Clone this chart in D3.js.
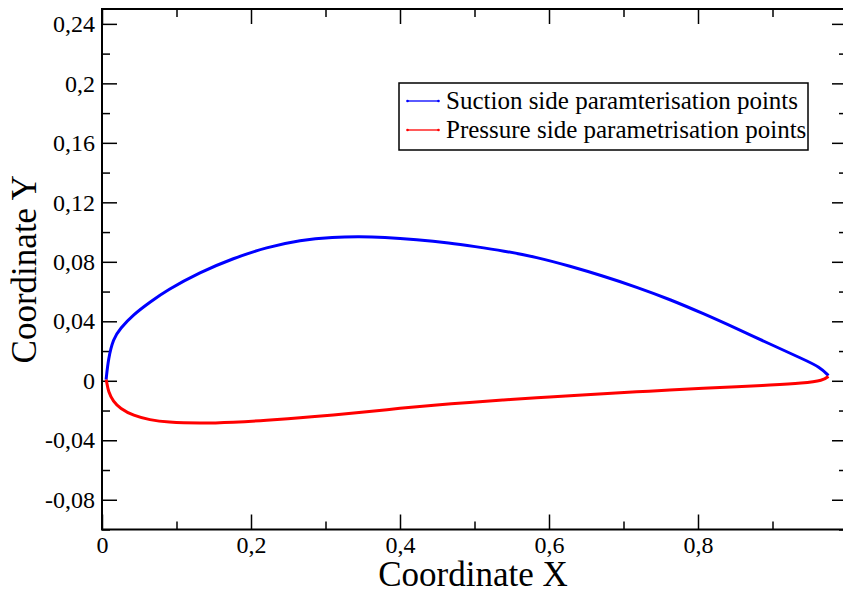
<!DOCTYPE html>
<html><head><meta charset="utf-8">
<script src="https://cdn.jsdelivr.net/npm/d3@7"></script>
<style>body{margin:0;background:#fff;overflow:hidden}svg{display:block}</style>
</head><body>
<script>
// Data
const suctionX = [0.0055,0.0085,0.0152,0.0242,0.042,0.0644,0.0868,0.1315,0.1763,0.221,0.2658,0.3105,0.346,0.3776,0.4224,0.467,0.5,0.5387,0.5835,0.628,0.673,0.7177,0.7624,0.8071,0.8519,0.8966,0.9413,0.9638,0.975];
const suctionY = [0.0008,0.015,0.0284,0.0351,0.0445,0.0529,0.0608,0.0730,0.0824,0.0898,0.0947,0.0967,0.0970,0.0966,0.0950,0.0927,0.0903,0.0874,0.0831,0.0771,0.0704,0.0630,0.0547,0.0452,0.0351,0.0247,0.0145,0.0092,0.0035];
const pressureX = [0.0055,0.0063,0.0085,0.0152,0.0242,0.042,0.0644,0.0868,0.1315,0.1763,0.221,0.2658,0.3105,0.3553,0.40,0.4448,0.494,0.5387,0.5835,0.628,0.673,0.7177,0.762,0.807,0.852,0.8966,0.9413,0.9682,0.975];
const pressureY = [0.0008,-0.0007,-0.0074,-0.0141,-0.0185,-0.0235,-0.0263,-0.0279,-0.0286,-0.0279,-0.0266,-0.0248,-0.023,-0.0208,-0.0185,-0.0164,-0.0145,-0.0129,-0.0114,-0.0100,-0.0087,-0.0074,-0.0062,-0.0051,-0.0040,-0.0029,-0.0016,0.0002,0.0030];
const seriesNames = ["Suction side paramterisation points","Pressure side parametrisation points"];
const seriesColors = ["#0000ff","#ff0000"];
const xMajorTicks = [0,0.2,0.4,0.6,0.8,1.0];
const xMinorTicks = [0.1,0.3,0.5,0.7,0.9];
const yMajorTicks = [-0.08,-0.04,0,0.04,0.08,0.12,0.16,0.2,0.24];
const yMinorTicks = [-0.1,-0.06,-0.02,0.02,0.06,0.1,0.14,0.18,0.22];
const xTitle = "Coordinate X", yTitle = "Coordinate Y";

const W = 843, H = 594;
const L = 102, R = 847, T = 9, B = 529.5;
const svg = d3.select("body").append("svg").attr("width", W).attr("height", H);
const font = "'Liberation Serif','Times New Roman',serif";
const x = d3.scaleLinear().domain([0,1]).range([L,R]);
const y = d3.scaleLinear().domain([-0.1,0.25]).range([B,T]);
const fmt = v => (Math.abs(v) < 1e-9 ? "0" : String(+v.toFixed(2))).replace(".", ",");
const TF = 24;

function styleAxis(g){ g.select(".domain").remove(); g.attr("font-family",font).attr("font-size",TF); g.selectAll("line").attr("stroke","#000").attr("stroke-width",1.5); g.selectAll("text").attr("fill","#000"); }
svg.append("g").attr("transform",`translate(0,${B})`).call(d3.axisBottom(x).tickValues(xMajorTicks.filter(v=>v<1)).tickSize(-15).tickPadding(6).tickFormat(fmt)).call(styleAxis);
svg.append("g").attr("transform",`translate(0,${B})`).call(d3.axisBottom(x).tickValues(xMinorTicks).tickSize(-8).tickFormat("")).call(styleAxis);
svg.append("g").attr("transform",`translate(0,${T})`).call(d3.axisTop(x).tickValues(xMajorTicks).tickSize(-15).tickFormat("")).call(styleAxis);
svg.append("g").attr("transform",`translate(0,${T})`).call(d3.axisTop(x).tickValues(xMinorTicks).tickSize(-8).tickFormat("")).call(styleAxis);
svg.append("g").attr("transform",`translate(${L},0)`).call(d3.axisLeft(y).tickValues(yMajorTicks).tickSize(-15).tickPadding(7).tickFormat(fmt)).call(styleAxis);
svg.append("g").attr("transform",`translate(${L},0)`).call(d3.axisLeft(y).tickValues(yMinorTicks).tickSize(-8).tickFormat("")).call(styleAxis);
svg.append("g").attr("transform",`translate(${R},0)`).call(d3.axisRight(y).tickValues(yMajorTicks).tickSize(-15).tickFormat("")).call(styleAxis);
svg.append("g").attr("transform",`translate(${R},0)`).call(d3.axisRight(y).tickValues(yMinorTicks).tickSize(-8).tickFormat("")).call(styleAxis);
svg.append("rect").attr("x",L).attr("y",T).attr("width",R-L).attr("height",B-T).attr("fill","none").attr("stroke","#000").attr("stroke-width",2);

// curves
const line = d3.line().x(d=>x(d[0])).y(d=>y(d[1])).curve(d3.curveBasis);
const suction = suctionX.map((v,i)=>[v,suctionY[i]]);
const pressure = pressureX.map((v,i)=>[v,pressureY[i]]);
svg.append("path").datum(suction).attr("d",line).attr("fill","none").attr("stroke",seriesColors[0]).attr("stroke-width",3);
svg.append("path").datum(pressure).attr("d",line).attr("fill","none").attr("stroke",seriesColors[1]).attr("stroke-width",3);

// titles
svg.append("text").attr("x",473).attr("y",586).attr("text-anchor","middle").attr("font-family",font).attr("font-size",35).text(xTitle);
svg.append("text").attr("transform",`translate(36,${(T+B)/2}) rotate(-90)`).attr("text-anchor","middle").attr("font-family",font).attr("font-size",35).text(yTitle);

// legend
const lg = svg.append("g");
lg.append("rect").attr("x",399).attr("y",83).attr("width",409).attr("height",67).attr("fill","#fff").attr("stroke","#000").attr("stroke-width",1.5);
seriesNames.forEach((n,i)=>{
  const yy = 101 + i*29;
  lg.append("line").attr("x1",407).attr("x2",439).attr("y1",yy).attr("y2",yy).attr("stroke",seriesColors[i]).attr("stroke-width",1.3);
  lg.append("circle").attr("cx",407.5).attr("cy",yy).attr("r",1.3).attr("fill",seriesColors[i]);
  lg.append("circle").attr("cx",438.5).attr("cy",yy).attr("r",1.3).attr("fill",seriesColors[i]);
  lg.append("text").attr("x",446).attr("y",yy+8).attr("font-family",font).attr("font-size",25).text(n);
});
</script>
</body></html>
